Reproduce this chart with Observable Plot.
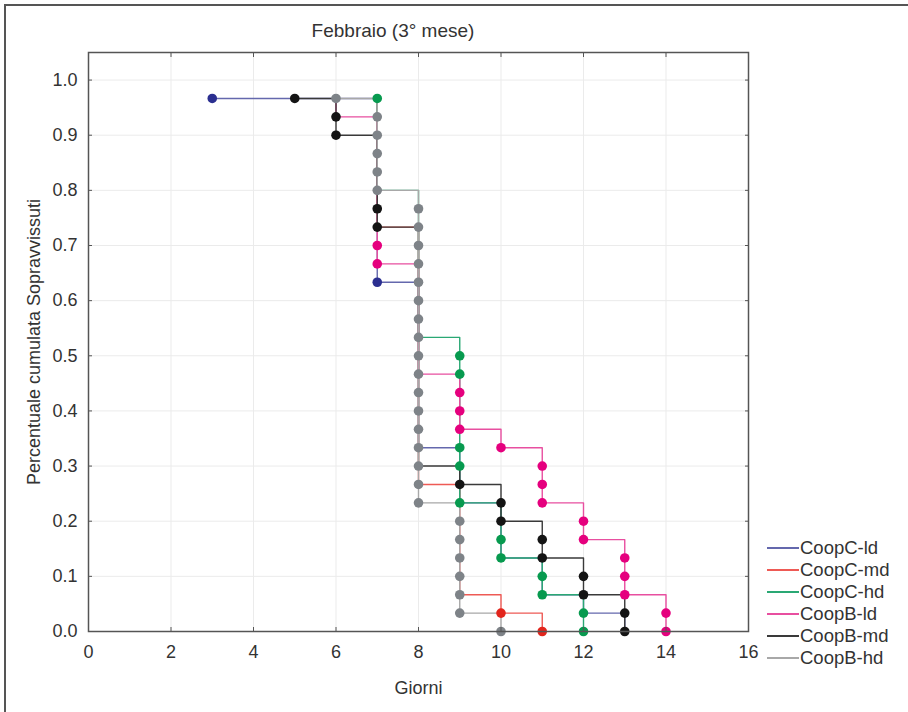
<!DOCTYPE html>
<html>
<head>
<meta charset="utf-8">
<script src="https://cdn.jsdelivr.net/npm/d3@7"></script>
<script src="https://cdn.jsdelivr.net/npm/@observablehq/plot@0.6"></script>
<style>
  body { margin: 0; background: #fff; font-family: "Liberation Sans", Arial, sans-serif; }
  #wrap { position: relative; width: 908px; height: 712px; overflow: hidden; background: #fff; }
  #border { position: absolute; left: 4px; top: 4px; width: 920px; height: 720px; border-top: 2px solid #555; border-left: 2px solid #555; }
  #chart { position: absolute; left: 0; top: 0; }
  #title { position: absolute; top: 20px; left: 293px; width: 200px; text-align: center; font-size: 19px; color: #333; white-space: nowrap; }
  #legend { position: absolute; left: 767px; top: 537px; }
  .row { display: flex; align-items: center; height: 22px; }
  .sw { width: 32px; height: 2px; }
  .lab { margin-left: 1px; font-size: 18.5px; color: #333; line-height: 1; }
</style>
</head>
<body>
<div id="wrap">
  <div id="border"></div>
  <div id="chart"></div>
  <div id="title">Febbraio (3° mese)</div>
  <div id="legend"></div>
</div>
<script>
// ---- data (deaths per day, 30 individuals per group) ----
const groupSize = 30;
const days = [3, 4, 5, 6, 7, 8, 9, 10, 11, 12, 13, 14];
const seriesNames = ["CoopC-ld", "CoopC-md", "CoopC-hd", "CoopB-ld", "CoopB-md", "CoopB-hd"];
const coopCld = [1, 0, 0, 0, 10, 9, 3, 3, 2, 1, 1, 0];
const coopCmd = [0, 0, 0, 0, 8, 14, 6, 1, 1, 0, 0, 0];
const coopChd = [0, 0, 0, 0, 6, 8, 9, 3, 2, 2, 0, 0];
const coopBld = [0, 0, 0, 2, 8, 6, 3, 1, 3, 2, 3, 2];
const coopBmd = [0, 0, 1, 2, 5, 13, 1, 2, 2, 2, 2, 0];
const coopBhd = [0, 0, 0, 1, 5, 17, 6, 1, 0, 0, 0, 0];
const xTicks = [0, 2, 4, 6, 8, 10, 12, 14, 16];
const yTicks = [0, 0.1, 0.2, 0.3, 0.4, 0.5, 0.6, 0.7, 0.8, 0.9, 1.0];

const lineColors = ["#6468ad", "#ee5a55", "#2aa874", "#e84fa0", "#3a3a3a", "#a8a8a8"];
const dotColors  = ["#2b2f90", "#e2251c", "#079a4f", "#e5007e", "#141414", "#7e8388"];

const counts = [coopCld, coopCmd, coopChd, coopBld, coopBmd, coopBhd];

// cumulative proportion surviving, one point per individual
function survival(name, deaths) {
  const pts = [];
  let i = 0;
  deaths.forEach((c, j) => {
    for (let k = 0; k < c; k++) {
      i++;
      pts.push({series: name, day: days[j], s: 1 - i / groupSize});
    }
  });
  return pts;
}
const data = seriesNames.map((n, idx) => survival(n, counts[idx]));

// only the top-most dot at each position is drawn (avoids colour fringes)
const key = d => d.day + "|" + d.s.toFixed(4);
const visibleDots = data.map((pts, idx) => {
  const later = new Set(data.slice(idx + 1).flat().map(key));
  return pts.filter(d => !later.has(key(d)));
});

const lineMarks = data.map((pts, idx) =>
  Plot.line(pts, {x: "day", y: "s", curve: "step-after", stroke: lineColors[idx], strokeWidth: 1.4}));
const dotMarks = visibleDots.map((pts, idx) =>
  Plot.dot(pts, {x: "day", y: "s", r: 4.8, fill: dotColors[idx], stroke: "none"}));

const chart = Plot.plot({
  width: 908,
  height: 712,
  marginLeft: 88,
  marginRight: 160,
  marginTop: 52,
  marginBottom: 81,
  style: {fontSize: "18px", fontFamily: "Liberation Sans, Arial, sans-serif", color: "#333", background: "transparent", overflow: "visible"},
  x: {domain: [0, 16]},
  y: {domain: [0, 1.05]},
  marks: [
    Plot.gridX(xTicks, {stroke: "#ebebeb", strokeOpacity: 1}),
    Plot.gridY(yTicks, {stroke: "#ebebeb", strokeOpacity: 1}),
    ...lineMarks,
    ...dotMarks,
    Plot.frame({stroke: "#555", strokeWidth: 1.5}),
    Plot.axisX(xTicks, {anchor: "bottom", tickSize: -4, tickPadding: 18, stroke: "#555", label: "Giorni", labelAnchor: "center", labelOffset: 62, labelArrow: "none"}),
    Plot.axisX(xTicks, {anchor: "top", tickSize: -4, stroke: "#555", tickFormat: () => "", label: null}),
    Plot.axisY(yTicks, {anchor: "left", tickSize: -4, tickPadding: 15, stroke: "#555", tickFormat: ".1f", label: "Percentuale cumulata Sopravvissuti", labelAnchor: "center", labelOffset: 61, labelArrow: "none"}),
    Plot.axisY(yTicks, {anchor: "right", tickSize: -4, stroke: "#555", tickFormat: () => "", label: null})
  ]
});
document.getElementById("chart").appendChild(chart);

// legend
const legend = document.getElementById("legend");
seriesNames.forEach((n, idx) => {
  const row = document.createElement("div");
  row.className = "row";
  const sw = document.createElement("div");
  sw.className = "sw";
  sw.style.background = lineColors[idx];
  const lab = document.createElement("span");
  lab.className = "lab";
  lab.textContent = n;
  row.appendChild(sw);
  row.appendChild(lab);
  legend.appendChild(row);
});
</script>
</body>
</html>
